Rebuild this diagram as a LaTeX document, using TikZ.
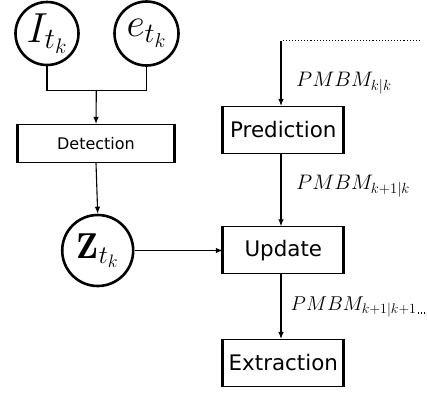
\RequirePackage{fix-cm}
\documentclass[tikz,border=0pt]{standalone}
\usepackage{fontspec}
\newfontfamily\boxfont{DejaVu Sans}
\usetikzlibrary{arrows.meta}
\begin{document}
\begin{tikzpicture}[x=1pt,y=1pt,
  conn/.style={line width=1.1pt},
  arr/.style={conn,-{Latex[length=7pt,width=5.5pt]}},
  circ/.style={draw,circle,line width=2.6pt,inner sep=0pt},
  boxnode/.style={draw,rectangle,line width=1.1pt,minimum width=120pt,minimum height=47pt,inner sep=0pt,font=\boxfont\fontsize{21.4}{26}\selectfont},
  thickside/.style={line width=3pt},
  lbl/.style={inner sep=0pt,anchor=base west,font=\fontsize{21}{25}\selectfont}]
\useasboundingbox (0,0) rectangle (427,-394);
\node[circ,minimum size=63pt] (I) at (47,-33.5) {\fontsize{42}{50}\selectfont$I_{t_k}$};
\node[circ,minimum size=64pt] (e) at (146.5,-33.5) {\fontsize{40}{48}\selectfont$e_{t_k}$};
\node[boxnode,minimum width=155pt,minimum height=38pt,font=\boxfont\fontsize{16}{19}\selectfont] (det) at (96,-143.5) {Detection};
\node[circ,minimum size=71pt] (Z) at (97.7,-250.5) {\fontsize{36}{43}\selectfont$\mathbf{Z}_{t_k}$};
\node[boxnode] (pred) at (283.3,-130) {Prediction};
\node[boxnode] (upd) at (283.3,-250.3) {Update};
\node[boxnode] (ext) at (283.3,-363) {Extraction};
\foreach \n in {det,pred,upd,ext}{
  \draw[thickside] (\n.north west) -- (\n.south west) (\n.north east) -- (\n.south east);
}
\coordinate (j) at (96.3,-90.7);
\draw[conn] (I.south) |- (j) -| (e.south);
\draw[arr] (j) -- (det.north);
\draw[arr] (det.south) -- (Z.north);
\draw[arr] (Z.east) -- (Z.east -| upd.west);
\coordinate (tl) at (281,-40.7);
\coordinate (tr) at (420,-40.7);
\draw[conn,dotted] (tr) -- (tl);
\draw[arr] (tl) -- (tl |- pred.north);
\draw[arr] (tl |- pred.south) -- (tl |- upd.north);
\draw[arr] (tl |- upd.south) -- (tl |- ext.north);
\node[lbl] (l1) at (296,-86.5) {$PMBM_{k|k}$};
\node[lbl] (l2) at (296,-189.5) {$PMBM_{k+1|k}$};
\node[lbl,font=\fontsize{20}{24}\selectfont] (l3) at (290.5,-310) {$PMBM_{k+1|k+1}$};
\coordinate (dr) at (426,-313);
\draw[conn,dotted] ([xshift=1pt]l3.east |- dr) -- (dr);
\end{tikzpicture}
\end{document}
